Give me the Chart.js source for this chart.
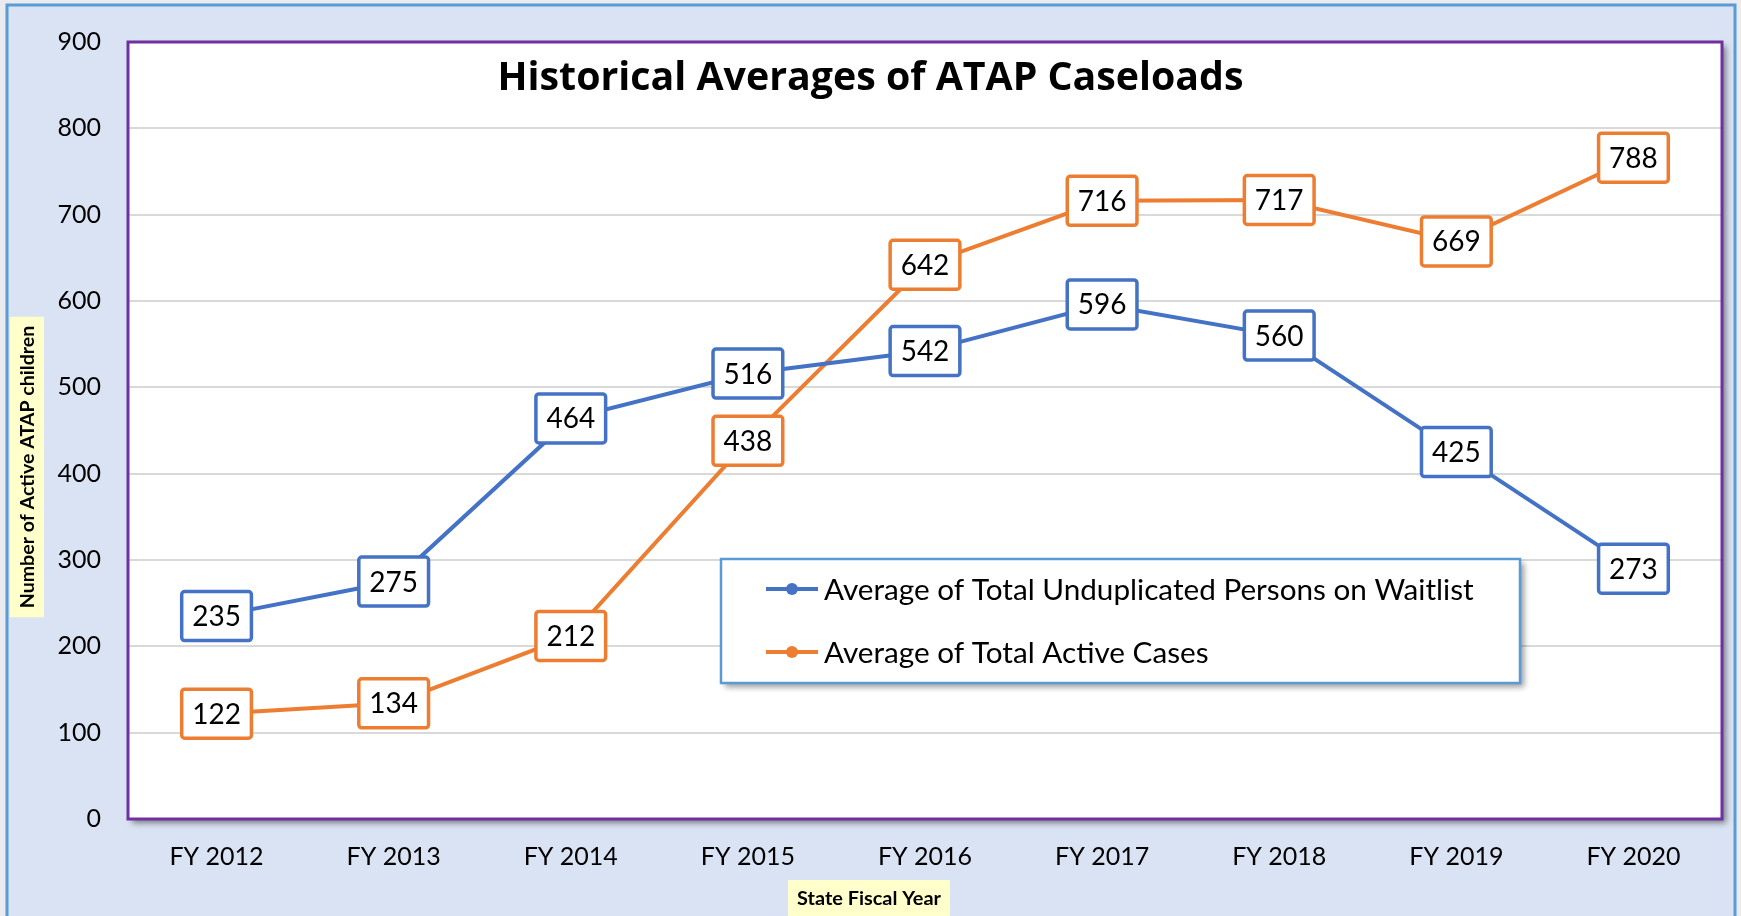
<!DOCTYPE html>
<html>
<head>
<meta charset="utf-8">
<script src="https://cdn.jsdelivr.net/npm/chart.js@4.4.1/dist/chart.umd.min.js"></script>
<style>
html, body { margin: 0; padding: 0; background: #e9ebee; }
#wrap { position: relative; width: 1741px; height: 916px; }
</style>
</head>
<body>
<div id="wrap"><canvas id="caseChart" width="1741" height="916"></canvas></div>
<script>
// data
const fiscalYears = ['FY 2012', 'FY 2013', 'FY 2014', 'FY 2015', 'FY 2016', 'FY 2017', 'FY 2018', 'FY 2019', 'FY 2020'];
// plotted positions (the last points sit at ~290 / ~766 in the picture)
const waitlistAvg = [235, 275, 464, 516, 542, 596, 560, 425, 290];
const activeAvg = [122, 134, 212, 438, 642, 716, 717, 669, 766];
// label text as printed in the boxes
const waitlistText = ['235', '275', '464', '516', '542', '596', '560', '425', '273'];
const activeText = ['122', '134', '212', '438', '642', '716', '717', '669', '788'];
const seriesNames = ['Average of Total Unduplicated Persons on Waitlist', 'Average of Total Active Cases'];
const seriesColors = ['#4472c4', '#ed7d31'];
const chartTitle = 'Historical Averages of ATAP Caseloads';
const yTitle = 'Number of Active ATAP children';
const xTitle = 'State Fiscal Year';

Chart.defaults.font.family = 'Lato, "Open Sans", sans-serif';
Chart.defaults.color = '#000';

// pick a font size so the text comes out at a given width
function fitFont(ctx, text, weight, family, target) {
    ctx.font = weight + ' 100px ' + family;
    let size = 100 * target / ctx.measureText(text).width;
    return weight + ' ' + size.toFixed(1) + 'px ' + family;
}

// frame, plot background and shadow
const backdrop = {
    id: 'backdrop',
    beforeDraw(chart) {
        let ctx = chart.ctx;
        let a = chart.chartArea;
        ctx.save();
        ctx.fillStyle = '#dae3f3';
        ctx.fillRect(7, 5, 1728, 930);
        ctx.strokeStyle = '#5b9bd5';
        ctx.lineWidth = 3;
        ctx.strokeRect(7, 5, 1728, 930);
        ctx.shadowColor = 'rgba(0,0,0,0.45)';
        ctx.shadowBlur = 6;
        ctx.shadowOffsetX = 4;
        ctx.shadowOffsetY = 4;
        ctx.fillStyle = '#fff';
        ctx.fillRect(a.left, a.top, a.right - a.left, a.bottom - a.top);
        ctx.restore();
    }
};

// boxed value labels on every point
const boxLabels = {
    id: 'boxLabels',
    afterDatasetsDraw(chart) {
        let ctx = chart.ctx;
        ctx.save();
        ctx.font = '28px Lato';
        ctx.textAlign = 'center';
        ctx.textBaseline = 'middle';
        chart.data.datasets.forEach((ds, i) => {
            let meta = chart.getDatasetMeta(i);
            meta.data.forEach((pt, j) => {
                let txt = ds.labelText[j];
                let w = ctx.measureText(txt).width + 21;
                let h = 49;
                ctx.beginPath();
                ctx.roundRect(pt.x - w / 2, pt.y - h / 2, w, h, 3);
                ctx.fillStyle = '#fff';
                ctx.fill();
                ctx.lineWidth = 3.5;
                ctx.strokeStyle = ds.borderColor;
                ctx.stroke();
                ctx.fillStyle = '#000';
                ctx.fillText(txt, pt.x, pt.y + 1);
            });
        });
        ctx.restore();
    }
};

// plot border, legend box, title and axis titles
const overlay = {
    id: 'overlay',
    afterDraw(chart) {
        let ctx = chart.ctx;
        let a = chart.chartArea;
        ctx.save();
        ctx.strokeStyle = '#7030a0';
        ctx.lineWidth = 3;
        ctx.strokeRect(a.left, a.top, a.right - a.left, a.bottom - a.top);

        // legend
        let lx = 721, ly = 559, lw = 799, lh = 124;
        ctx.save();
        ctx.shadowColor = 'rgba(0,0,0,0.4)';
        ctx.shadowBlur = 6;
        ctx.shadowOffsetX = 4;
        ctx.shadowOffsetY = 4;
        ctx.fillStyle = '#fff';
        ctx.fillRect(lx, ly, lw, lh);
        ctx.restore();
        ctx.strokeStyle = '#5b9bd5';
        ctx.lineWidth = 2.5;
        ctx.strokeRect(lx, ly, lw, lh);
        let legendFont = fitFont(ctx, seriesNames[0], 'normal', 'Lato', 650);
        ctx.textBaseline = 'middle';
        ctx.textAlign = 'left';
        chart.data.datasets.forEach((ds, i) => {
            let y = ly + 30 + i * 63;
            ctx.strokeStyle = ds.borderColor;
            ctx.lineWidth = 4;
            ctx.beginPath();
            ctx.moveTo(lx + 45, y);
            ctx.lineTo(lx + 97, y);
            ctx.stroke();
            ctx.fillStyle = ds.borderColor;
            ctx.beginPath();
            ctx.arc(lx + 71, y, 6, 0, Math.PI * 2);
            ctx.fill();
            ctx.font = legendFont;
            ctx.fillStyle = '#000';
            ctx.fillText(ds.label, lx + 103, y + 1);
        });

        // chart title
        ctx.font = fitFont(ctx, chartTitle, 'bold', '"Open Sans"', 746);
        ctx.textAlign = 'center';
        ctx.fillText(chartTitle, chart.width / 2, 79);

        // x axis title
        ctx.font = fitFont(ctx, xTitle, 'bold', 'Lato', 144);
        let tw = ctx.measureText(xTitle).width;
        ctx.fillStyle = '#ffffcc';
        ctx.fillRect(869 - tw / 2 - 9, 880, tw + 18, 36);
        ctx.fillStyle = '#000';
        ctx.fillText(xTitle, 869, 899);

        // y axis title
        ctx.font = fitFont(ctx, yTitle, 'bold', 'Lato', 283);
        ctx.translate(27, 467);
        ctx.rotate(-Math.PI / 2);
        tw = ctx.measureText(yTitle).width;
        ctx.fillStyle = '#ffffcc';
        ctx.fillRect(-tw / 2 - 9, -17, tw + 18, 34);
        ctx.fillStyle = '#000';
        ctx.fillText(yTitle, 0, 1);
        ctx.restore();
    }
};

new Chart(document.getElementById('caseChart'), {
    type: 'line',
    data: {
        labels: fiscalYears,
        datasets: [
            {
                label: seriesNames[0],
                data: waitlistAvg,
                labelText: waitlistText,
                borderColor: seriesColors[0],
                backgroundColor: seriesColors[0],
                borderWidth: 4,
                pointRadius: 0,
                tension: 0
            },
            {
                label: seriesNames[1],
                data: activeAvg,
                labelText: activeText,
                borderColor: seriesColors[1],
                backgroundColor: seriesColors[1],
                borderWidth: 4,
                pointRadius: 0,
                tension: 0
            }
        ]
    },
    options: {
        responsive: false,
        animation: false,
        layout: { padding: { top: 42, right: 19, left: 0, bottom: 0 } },
        plugins: {
            legend: { display: false },
            title: { display: false },
            tooltip: { enabled: false }
        },
        scales: {
            x: {
                offset: true,
                grid: { display: false },
                border: { display: false },
                ticks: { font: { size: 25 }, padding: 15, color: '#000' },
                afterFit: scale => { scale.height = 97; }
            },
            y: {
                min: 0,
                max: 900,
                ticks: { stepSize: 100, font: { size: 25 }, padding: 27, color: '#000' },
                grid: { color: '#d9d9d9', lineWidth: 2, drawTicks: false },
                border: { display: false },
                afterFit: scale => { scale.width = 128; }
            }
        }
    },
    plugins: [backdrop, boxLabels, overlay]
});
</script>
</body>
</html>
